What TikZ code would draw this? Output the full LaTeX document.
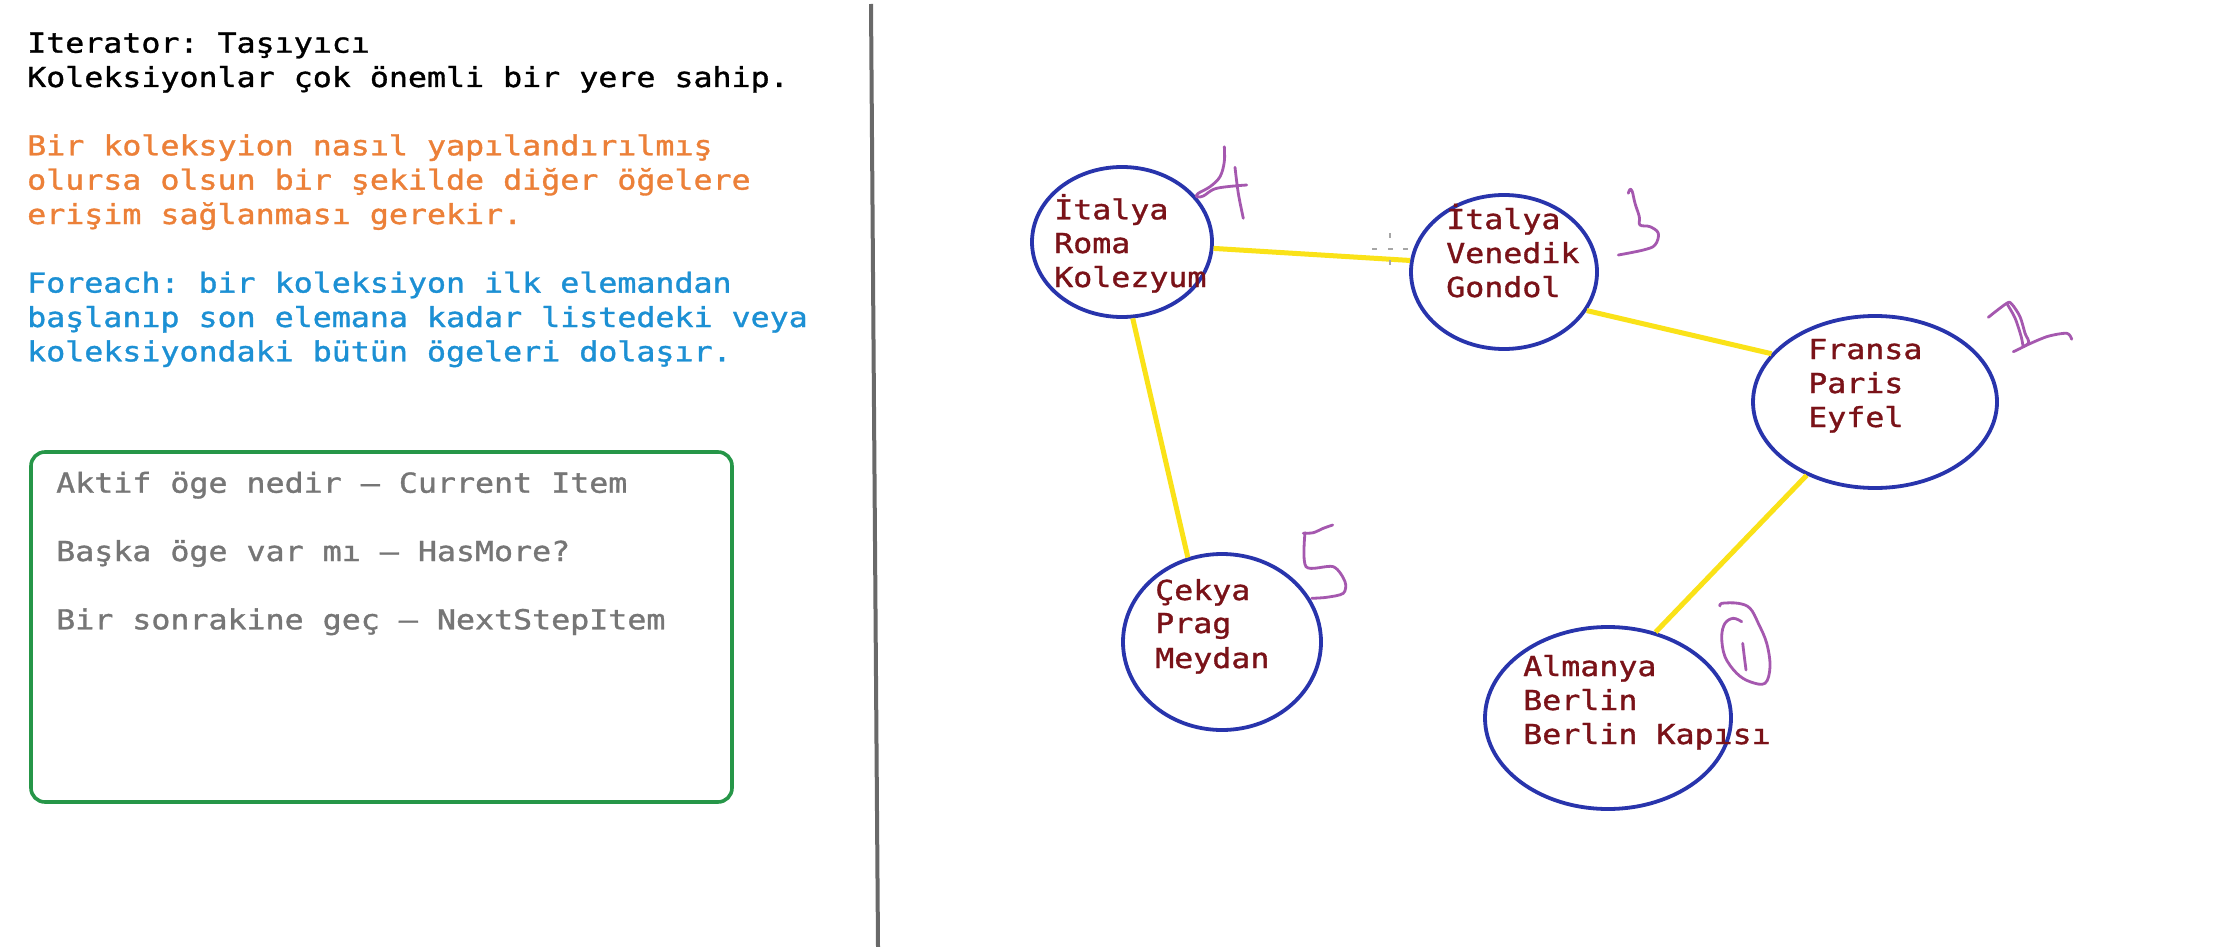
\documentclass[tikz,border=0pt]{standalone}
\usepackage{fontspec}
\setmonofont[FakeStretch=1.15,FakeBold=1.2]{DejaVu Sans Mono}
\usetikzlibrary{shapes.geometric}

\definecolor{txtorange}{RGB}{236,128,56}
\definecolor{txtblue}{RGB}{28,144,212}
\definecolor{txtgray}{RGB}{118,118,118}
\definecolor{boxgreen}{RGB}{38,150,72}
\definecolor{ellblue}{RGB}{40,52,172}
\definecolor{citytxt}{RGB}{122,18,24}
\definecolor{linkyellow}{RGB}{250,226,24}
\definecolor{penpurple}{RGB}{165,88,175}
\definecolor{sepgray}{RGB}{105,105,105}

\begin{document}
\begin{tikzpicture}[x=1pt,y=-1pt,
  txt/.style={inner sep=0pt, anchor=base west,
    font=\ttfamily\fontsize{27.5}{34}\selectfont},
  city/.style n args={2}{draw=ellblue, line width=3.8pt, ellipse,
    inner sep=0pt, minimum width=#1, minimum height=#2},
  cityname/.style={txt, text=citytxt},
  link/.style={draw=linkyellow, line width=5pt},
  pen/.style={draw=penpurple, line width=2.8pt, line cap=round, line join=round}]

\useasboundingbox[fill=white] (0,0) rectangle (2225,947);

% separator between the notes and the graph
\draw[sepgray, line width=4pt] (871,4) -- (878,947);

% notes
\node[txt] (t1) at (27,52.7) {Iterator: Taşıyıcı};
\node[txt] (t2) at (27,87) {Koleksiyonlar çok önemli bir yere sahip.};
\node[txt, text=txtorange] (o1) at (27,155.3) {Bir koleksyion nasıl yapılandırılmış};
\node[txt, text=txtorange] (o2) at (27,189.6) {olursa olsun bir şekilde diğer öğelere};
\node[txt, text=txtorange] (o3) at (27,224) {erişim sağlanması gerekir.};
\node[txt, text=txtblue] (b1) at (27,292.6) {Foreach: bir koleksiyon ilk elemandan};
\node[txt, text=txtblue] (b2) at (27,327) {başlanıp son elemana kadar listedeki veya};
\node[txt, text=txtblue] (b3) at (27,361.3) {koleksiyondaki bütün ögeleri dolaşır.};

% iterator operations
\draw[boxgreen, line width=3.6pt, rounded corners=14pt] (31,452) rectangle (732,802);
\node[txt, text=txtgray] (g1) at (56,492.7) {Aktif öge nedir – Current Item};
\node[txt, text=txtgray] (g2) at (56,561) {Başka öge var mı – HasMore?};
\node[txt, text=txtgray] (g3) at (56,629.3) {Bir sonrakine geç – NextStepItem};

% collection elements
\node[city={180}{150}] (roma) at (1122,242) {};
\node[city={186}{154}] (ven)  at (1504,272) {};
\node[city={244}{172}] (fra)  at (1875,402) {};
\node[city={198}{176}] (cek)  at (1222,642) {};
\node[city={246}{182}] (alm)  at (1608,718) {};

% links between elements
\draw[link] (roma.-4)  -- (ven.173.5);
\draw[link] (roma.-82) -- (cek.112);
\draw[link] (ven.-25)  -- (fra.155);
\draw[link] (fra.227)  -- (alm.61.5);

% element texts
\node[cityname] (r1) at (1054,219.3) {İtalya};
\node[cityname] (r2) at (1054,253) {Roma};
\node[cityname] (r3) at (1054,287) {Kolezyum};
\node[cityname] (v1) at (1446,229) {İtalya};
\node[cityname] (v2) at (1446,263) {Venedik};
\node[cityname] (v3) at (1446,297) {Gondol};
\node[cityname] (f1) at (1808,359) {Fransa};
\node[cityname] (f2) at (1808,393) {Paris};
\node[cityname] (f3) at (1808,427) {Eyfel};
\node[cityname] (c1) at (1155,600) {Çekya};
\node[cityname] (c2) at (1155,633) {Prag};
\node[cityname] (c3) at (1155,668) {Meydan};
\node[cityname] (a1) at (1523,676) {Almanya};
\node[cityname] (a2) at (1523,710) {Berlin};
\node[cityname] (a3) at (1523,744) {Berlin Kapısı};

% handwritten order numbers
% 4
\draw[pen] plot[smooth, tension=0.6] coordinates {(1224.3,146.7) (1224.3,161.7) (1220,176.7) (1210,186.7) (1198.3,193.3) (1196.7,196.7) (1203.3,196) (1216.7,188.3) (1246.7,185)};
\draw[pen] plot[smooth, tension=0.6] coordinates {(1235,167.3) (1238.3,193.3) (1243.3,218.3)};
% 3
\draw[pen] plot[smooth, tension=0.6] coordinates {(1628.3,193.3) (1630,189.3) (1632.3,191.7) (1635,203.3) (1639.3,216.7) (1640,225) (1650,226.7) (1658.3,233.3) (1655,245) (1643.3,250) (1618.3,255)};
% 2
\draw[pen] plot[smooth, tension=0.5] coordinates {(1988.3,317.3) (2006.7,303.3) (2011.7,304) (2020,316.7) (2025,333.3) (2028.3,343.3) (2013.3,351.7)};
\draw[pen] plot[smooth, tension=0.5] coordinates {(2006.7,303.3) (2015,318) (2021,336) (2023,346)};
\draw[pen] plot[smooth, tension=0.5] coordinates {(2023.3,346.7) (2046.7,336.7) (2066.7,333.3) (2071.7,339.3)};
% 5
\draw[pen] plot[smooth, tension=0.5] coordinates {(1303.3,533.3) (1313.3,532.7) (1323.3,528.3) (1332.7,525)};
\draw[pen] plot[smooth, tension=0.5] coordinates {(1305,532.7) (1306,566.7) (1333.3,566.7) (1345,581.7) (1343.3,593.3) (1326.7,597.3) (1311.7,598.3)};
% 1
\draw[pen] plot[smooth, tension=0.6] coordinates {(1741.7,621.7) (1733.3,618.3) (1725,623.3) (1721.7,636.7) (1725,656.7) (1736.7,673.3) (1750,681.7) (1765,683.3) (1770,666.7) (1766.7,643.3) (1758.3,623.3) (1750,608.3) (1738.3,603.3) (1721.7,603.3) (1720,606)};
\draw[pen] plot[smooth, tension=0.6] coordinates {(1742.7,643.3) (1744.3,656.7) (1746,670)};

% pointer cursor
\draw[gray!70, line width=1.5pt] (1390,233) -- (1390,238) (1390,260) -- (1390,265)
  (1372,249) -- (1377,249) (1388,249) -- (1393,249) (1403,249) -- (1408,249);
\end{tikzpicture}
\end{document}
